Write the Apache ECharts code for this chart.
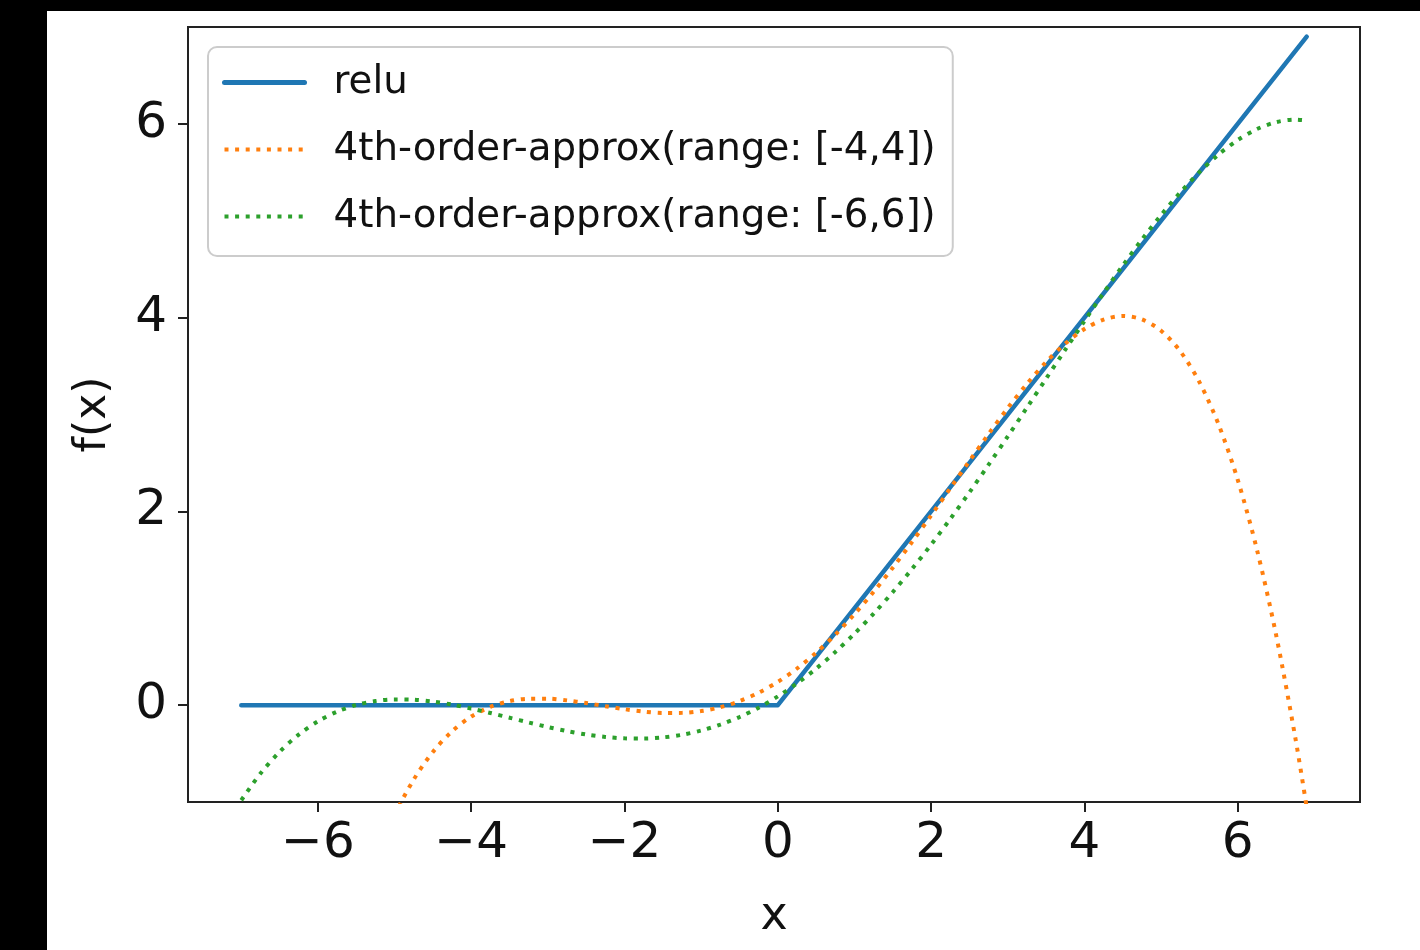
<!DOCTYPE html>
<html>
<head>
<meta charset="utf-8">
<script src="https://cdn.jsdelivr.net/npm/echarts@6/dist/echarts.min.js"></script>
<style>
  html, body { margin: 0; padding: 0; background: #000; width: 1420px; height: 950px; overflow: hidden; }
  #chart { position: absolute; left: 47px; top: 11px; width: 1373px; height: 939px; background: #fff; }
</style>
</head>
<body>
<div id="chart"></div>
<script>
// ---- data ----
const reluX = [-7, 0, 6.9];
const reluY = [0, 0, 6.9];

const approx4X = [-5.5, -5.25, -5, -4.75, -4.5, -4.25, -4, -3.75, -3.5, -3.25, -3, -2.75, -2.5, -2.25, -2, -1.75, -1.5, -1.25, -1, -0.75, -0.5, -0.25,
  0, 0.25, 0.5, 0.75, 1, 1.25, 1.5, 1.75, 2, 2.25, 2.5, 2.75, 3, 3.25, 3.5, 3.75, 4, 4.25, 4.5, 4.75, 5, 5.25, 5.5, 5.75, 6, 6.25, 6.5, 6.75, 6.9];
const approx4Y = [-2.165, -1.597, -1.135, -0.768, -0.483, -0.270, -0.118, -0.018, 0.041, 0.066, 0.067, 0.049, 0.021, -0.011, -0.042, -0.067, -0.081, -0.080, -0.061, -0.022, 0.041, 0.128,
  0.240, 0.378, 0.541, 0.728, 0.939, 1.170, 1.419, 1.683, 1.958, 2.239, 2.521, 2.799, 3.067, 3.316, 3.541, 3.732, 3.882, 3.980, 4.017, 3.982, 3.865, 3.653, 3.335, 2.897, 2.326, 1.607, 0.727, -0.331, -1.057];

const approx6X = [-7, -6.75, -6.5, -6.25, -6, -5.75, -5.5, -5.25, -5, -4.75, -4.5, -4.25, -4, -3.75, -3.5, -3.25, -3, -2.75, -2.5, -2.25, -2, -1.75, -1.5, -1.25, -1, -0.75, -0.5, -0.25,
  0, 0.25, 0.5, 0.75, 1, 1.25, 1.5, 1.75, 2, 2.25, 2.5, 2.75, 3, 3.25, 3.5, 3.75, 4, 4.25, 4.5, 4.75, 5, 5.25, 5.5, 5.75, 6, 6.25, 6.5, 6.75, 6.9];
const approx6Y = [-0.982, -0.706, -0.482, -0.304, -0.167, -0.067, 0.002, 0.042, 0.059, 0.056, 0.037, 0.006, -0.035, -0.081, -0.130, -0.179, -0.226, -0.268, -0.303, -0.328, -0.343, -0.345, -0.333, -0.306, -0.262, -0.201, -0.123, -0.026,
  0.090, 0.224, 0.377, 0.549, 0.738, 0.944, 1.167, 1.405, 1.657, 1.922, 2.197, 2.482, 2.774, 3.071, 3.370, 3.669, 3.965, 4.256, 4.537, 4.806, 5.059, 5.292, 5.502, 5.684, 5.833, 5.946, 6.018, 6.044, 6.035];

const seriesNames = ['relu', '4th-order-approx(range: [-4,4])', '4th-order-approx(range: [-6,6])'];
const xTicks = [-6, -4, -2, 0, 2, 4, 6];
const yTicks = [0, 2, 4, 6];
const xLimits = [-7.695, 7.595];
const yLimits = [-1, 7];

// ---- chart ----
const pair = (xs, ys) => xs.map((x, i) => [x, ys[i]]);
const FONT = 'DejaVu Sans';
const colors = ['#1f77b4', '#ff7f0e', '#2ca02c'];
const dotted = [4, 6.6];
const fmt = v => String(v).replace('-', '\u2212');

const chart = echarts.init(document.getElementById('chart'), null, { renderer: 'canvas' });
chart.setOption({
  backgroundColor: '#ffffff',
  animation: false,
  textStyle: { fontFamily: FONT },
  grid: {
    left: 141, right: 60, top: 16, bottom: 148,
    show: true, borderColor: '#222', borderWidth: 2, backgroundColor: 'transparent'
  },
  legend: {
    orient: 'vertical',
    left: 208 - 47, top: 47 - 11,
    padding: [16, 17, 20, 14],
    itemWidth: 80, itemHeight: 38, itemGap: 28,
    backgroundColor: 'rgba(255,255,255,0.8)',
    borderColor: '#cccccc', borderWidth: 2, borderRadius: 9,
    itemStyle: { opacity: 0 },
    textStyle: { fontFamily: FONT, fontSize: 38.8, color: '#111', lineHeight: 38, padding: [0, 0, 0, 24] },
    data: [
      { name: seriesNames[0], lineStyle: { width: 5, color: colors[0] } },
      { name: seriesNames[1], lineStyle: { width: 4, color: colors[1], type: dotted } },
      { name: seriesNames[2], lineStyle: { width: 4, color: colors[2], type: dotted } }
    ]
  },
  xAxis: {
    type: 'value', min: xLimits[0], max: xLimits[1],
    name: 'x', nameLocation: 'middle', nameGap: 92,
    nameTextStyle: { fontFamily: FONT, fontSize: 46, color: '#111' },
    axisLine: { show: true, onZero: false, lineStyle: { color: '#222', width: 2 } },
    axisTick: { show: true, length: 10, lineStyle: { color: '#222', width: 2 }, customValues: xTicks },
    axisLabel: { fontFamily: FONT, fontSize: 50, color: '#111', margin: 17, customValues: xTicks, formatter: fmt },
    splitLine: { show: false }
  },
  yAxis: {
    type: 'value', min: yLimits[0], max: yLimits[1],
    name: 'f(x)', nameLocation: 'middle', nameGap: 72,
    nameTextStyle: { fontFamily: FONT, fontSize: 44, color: '#111' },
    axisLine: { show: true, onZero: false, lineStyle: { color: '#222', width: 2 } },
    axisTick: { show: true, length: 10, lineStyle: { color: '#222', width: 2 }, customValues: yTicks },
    axisLabel: { fontFamily: FONT, fontSize: 50, color: '#111', margin: 21, customValues: yTicks, formatter: fmt },
    splitLine: { show: false }
  },
  series: [
    {
      name: seriesNames[0], type: 'line', data: pair(reluX, reluY),
      symbol: 'none', clip: true, z: 2,
      lineStyle: { color: colors[0], width: 4.5, cap: 'round', join: 'round' },
      itemStyle: { color: colors[0] }
    },
    {
      name: seriesNames[1], type: 'line', data: pair(approx4X, approx4Y),
      symbol: 'none', smooth: 0.3, clip: true, z: 3,
      lineStyle: { color: colors[1], width: 4, type: dotted, cap: 'butt' },
      itemStyle: { color: colors[1] }
    },
    {
      name: seriesNames[2], type: 'line', data: pair(approx6X, approx6Y),
      symbol: 'none', smooth: 0.3, clip: true, z: 4,
      lineStyle: { color: colors[2], width: 4, type: dotted, cap: 'butt' },
      itemStyle: { color: colors[2] }
    }
  ]
});
</script>
</body>
</html>
